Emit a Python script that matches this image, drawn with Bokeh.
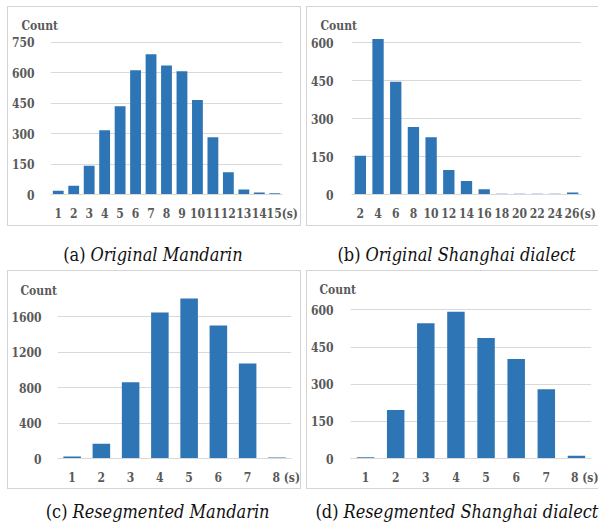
from bokeh.plotting import figure
from bokeh.models import Range1d, FixedTicker, Label
from bokeh.layouts import column, row
from bokeh.embed import file_html
from bokeh.resources import INLINE

# ---- data ----
a_secs = list(range(1, 16))
a_counts = [18, 43, 141, 317, 435, 612, 691, 635, 607, 465, 282, 110, 25, 10, 6]
a_yticks = [0, 150, 300, 450, 600, 750]

b_secs = list(range(2, 27, 2))
b_counts = [153, 614, 445, 267, 226, 97, 53, 21, 3, 3, 3, 3, 8]
b_yticks = [0, 150, 300, 450, 600]

c_secs = list(range(1, 9))
c_counts = [23, 166, 862, 1649, 1807, 1502, 1073, 11]
c_yticks = [0, 400, 800, 1200, 1600]

d_secs = list(range(1, 9))
d_counts = [5, 196, 546, 592, 486, 402, 280, 11]
d_yticks = [0, 150, 300, 450, 600]

captions = [("(a)", "Original Mandarin"), ("(b)", "Original Shanghai dialect"),
            ("(c)", "Resegmented Mandarin"), ("(d)", "Resegmented Shanghai dialect")]
unit = "(s)"
ylabel = "Count"

BAR = "#2E75B6"
GRID = "#D9D9D9"
TXT = "#595959"
BORDER = "#D4D4D4"
NB = "\u00a0"
FONT = "DejaVu Serif Condensed"
TICK_SIZE = "12px"
CAP_SIZE = "18px"


def chart(xs, ys, yticks, xr, y_end, bar_w, W, H, mbl, mbr, mbt, mbb,
          count_dx, count_standoff, gap, styles, ystand):
    p = figure(width=W, height=H, x_range=Range1d(*xr), y_range=Range1d(0, y_end),
               output_backend="svg", toolbar_location=None, title=ylabel,
               min_border_left=mbl, min_border_right=mbr,
               min_border_top=mbt, min_border_bottom=mbb, styles=styles)
    p.vbar(x=xs, top=ys, width=bar_w, color=BAR, line_color=None)
    p.outline_line_color = None
    p.background_fill_color = "white"
    p.border_fill_color = "white"
    p.xgrid.grid_line_color = None
    p.ygrid.grid_line_color = GRID
    p.ygrid.grid_line_width = 1
    p.xaxis.ticker = FixedTicker(ticks=list(xs))
    p.yaxis.ticker = FixedTicker(ticks=yticks)
    # last tick carries the unit; pad the front so the number stays centred
    last = xs[-1]
    p.xaxis.major_label_overrides = {last: NB * (4 + gap) + str(last) + NB * gap + unit}
    for ax in (p.xaxis, p.yaxis):
        ax.major_tick_line_color = None
        ax.minor_tick_line_color = None
        ax.major_label_text_font = FONT
        ax.major_label_text_font_style = "bold"
        ax.major_label_text_font_size = TICK_SIZE
        ax.major_label_text_color = TXT
    p.yaxis.axis_line_color = None
    p.xaxis.axis_line_color = GRID
    p.yaxis.major_label_standoff = ystand
    p.xaxis.major_label_standoff = 6

    t = p.title
    t.align = "left"
    t.offset = count_dx
    t.standoff = count_standoff
    t.text_font = FONT
    t.text_font_style = "bold"
    t.text_font_size = TICK_SIZE
    t.text_color = TXT
    return p


def caption(W, H, tag, name, split, yc):
    p = figure(width=W, height=H, x_range=Range1d(0, W), y_range=Range1d(0, H),
               output_backend="svg", toolbar_location=None, title=None,
               x_axis_type=None, y_axis_type=None, min_border=0)
    p.grid.visible = False
    p.outline_line_color = None
    p.add_layout(Label(x=split - 2, y=yc, text=tag, text_font=FONT, text_font_size=CAP_SIZE,
                       text_color="#111111", text_align="right", text_baseline="middle"))
    p.add_layout(Label(x=split + 3, y=yc, text=name, text_font=FONT, text_font_size=CAP_SIZE,
                       text_font_style="italic", text_color="#111111",
                       text_align="left", text_baseline="middle"))
    return p


full = {"border": f"1px solid {BORDER}"}
open_right = {"border-top": f"1px solid {BORDER}", "border-left": f"1px solid {BORDER}",
              "border-bottom": f"1px solid {BORDER}"}

pa = chart(a_secs, a_counts, a_yticks, (0.5, 15.5), 783, 0.7, 294, 220, 35, 20, 28, 33,
           -29, 5, 0, full, 10)
pb = chart(b_secs, b_counts, b_yticks, (1, 27), 628, 1.28, 292, 220, 38, 18, 28, 33,
           -31, 5, 0, open_right, 12)
pc = chart(c_secs, c_counts, c_yticks, (0.5, 8.5), 1829, 0.6, 294, 219, 43, 11, 25, 32,
           -37, -2, 1, full, 10)
pd = chart(d_secs, d_counts, d_yticks, (0.5, 8.5), 654, 0.58, 292, 219, 38, 8, 25, 32,
           -31, -1, 1, open_right, 11)

ca = caption(296, 44, captions[0][0], captions[0][1], 80, 16)
cb = caption(293, 44, captions[1][0], captions[1][1], 54, 16)
cc = caption(296, 35, captions[2][0], captions[2][1], 62, 13)
cd = caption(293, 35, captions[3][0], captions[3][1], 32, 13)

layout = column(row(pa, pb, spacing=5), row(ca, cb, spacing=5),
                row(pc, pd, spacing=5), row(cc, cd, spacing=5), spacing=0,
                margin=(6, 0, 0, 7))

open("out.html", "w").write(file_html(layout, INLINE))
